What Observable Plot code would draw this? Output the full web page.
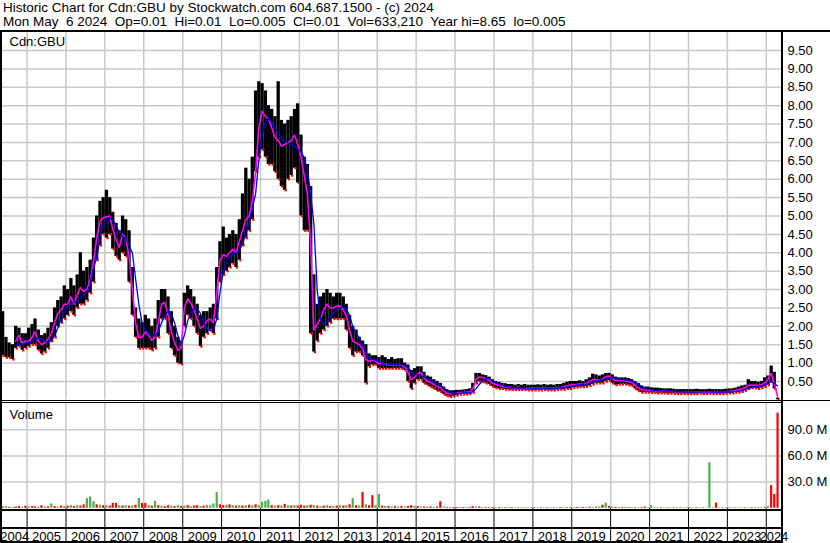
<!DOCTYPE html>
<html><head><meta charset="utf-8">
<script src="https://cdn.jsdelivr.net/npm/d3@7"></script>
<script src="https://cdn.jsdelivr.net/npm/@observablehq/plot@0.6"></script>
<style>
body{margin:0;background:#fff;font-family:"Liberation Sans",Arial,sans-serif;}
#wrap{position:relative;width:830px;height:543px;overflow:hidden;background:#fff;}
#hdr{position:absolute;left:3px;top:1.3px;font-size:13.5px;line-height:14px;white-space:pre;color:#000;}
#price{position:absolute;left:0;top:31px;}
#vol{position:absolute;left:0;top:402px;}
.ln{position:absolute;background:#000;}
svg{display:block;}
</style></head>
<body>
<div id="wrap">
  <div id="hdr"></div>
  <div id="price"></div>
  <div id="vol"></div>
  <div class="ln" style="left:0;top:30px;width:830px;height:2px"></div>
  <div class="ln" style="left:0;top:30px;width:2px;height:513px"></div>
  <div class="ln" style="left:781px;top:30px;width:2px;height:513px"></div>
  <div class="ln" style="left:0;top:399.5px;width:830px;height:1.5px"></div>
  <div class="ln" style="left:0;top:402px;width:782px;height:1px"></div>
  <div class="ln" style="left:0;top:509px;width:782px;height:2px"></div>
  <div class="ln" style="left:0;top:527px;width:782px;height:1.5px"></div>
  <div class="ln" style="left:0;top:541px;width:782px;height:2px"></div>
</div>
<script>
// ---- texts ----
const titleLine1 = "Historic Chart for Cdn:GBU by Stockwatch.com 604.687.1500 - (c) 2024";
const titleLine2 = "Mon May  6 2024  Op=0.01  Hi=0.01  Lo=0.005  Cl=0.01  Vol=633,210  Year hi=8.65  lo=0.005";
const symbolLabel = "Cdn:GBU";
const volumeLabel = "Volume";

// ---- axis ticks / labels ----
const priceTicks = [0.5,1,1.5,2,2.5,3,3.5,4,4.5,5,5.5,6,6.5,7,7.5,8,8.5,9,9.5];
const volTicks = [30e6, 60e6, 90e6];
const yearLabels = [2004,2005,2006,2007,2008,2009,2010,2011,2012,2013,2014,2015,2016,2017,2018,2019,2020,2021,2022,2023,2024];
const domainStart = "2004-05-15", domainEnd = "2024-05-23";
const firstMonth = "2004-05-01", endMonth = "2024-05-01";

// ---- monthly price data (May 2004 .. Apr 2024) ----
const hi = [2.4,1.7,1.55,1.5,2.0,1.95,1.8,1.8,
 1.95,2.05,2.2,1.9,1.75,1.8,1.95,2.1,2.5,2.7,2.8,3.1,
 3.0,3.3,3.1,3.4,4.0,3.5,3.6,3.8,4.4,5.0,5.4,5.5,
 5.7,5.5,5.1,4.8,4.6,5.0,4.9,4.6,3.6,2.5,2.2,2.1,
 2.3,2.2,2.0,2.2,2.7,3.0,3.0,2.8,2.4,2.0,1.7,1.6,
 2.9,3.1,3.0,2.8,2.6,2.3,2.4,2.4,2.5,2.6,3.6,4.3,
 4.7,4.4,4.5,4.6,4.5,4.9,5.6,6.3,6.0,6.6,8.4,8.65,
 8.6,8.4,8.0,7.9,7.7,8.65,7.6,7.5,7.6,7.7,7.9,8.05,
 7.2,6.6,6.4,5.8,3.4,2.6,2.8,2.9,3.0,2.9,2.8,2.9,
 2.9,2.8,2.6,2.3,2.0,1.9,1.7,1.6,1.5,1.25,1.2,1.2,
 1.15,1.2,1.15,1.1,1.15,1.1,1.12,1.12,1.0,0.95,0.8,0.85,
 0.9,0.9,0.75,0.65,0.62,0.55,0.5,0.45,0.35,0.28,0.25,0.25,
 0.26,0.26,0.27,0.28,0.3,0.45,0.72,0.72,0.68,0.66,0.62,0.55,
 0.5,0.48,0.45,0.44,0.42,0.42,0.4,0.42,0.4,0.42,0.4,0.4,
 0.4,0.41,0.4,0.42,0.4,0.41,0.4,0.42,0.42,0.45,0.48,0.5,
 0.5,0.5,0.52,0.5,0.55,0.6,0.7,0.68,0.65,0.68,0.72,0.72,
 0.68,0.62,0.6,0.6,0.6,0.58,0.55,0.5,0.45,0.38,0.35,0.35,
 0.33,0.32,0.32,0.31,0.3,0.3,0.3,0.29,0.28,0.28,0.28,0.28,
 0.28,0.28,0.29,0.28,0.28,0.28,0.29,0.28,0.28,0.28,0.28,0.29,
 0.3,0.3,0.32,0.35,0.38,0.4,0.55,0.5,0.5,0.48,0.5,0.6,
 0.65,0.92,0.75,0.05];
const lo = [1.2,1.15,1.15,1.1,1.4,1.45,1.35,1.4,
 1.45,1.5,1.5,1.35,1.25,1.3,1.4,1.6,1.7,2.0,2.1,2.2,
 2.3,2.4,2.3,2.5,2.6,2.6,2.7,2.9,3.2,3.8,4.2,4.5,
 4.4,4.5,4.1,3.9,3.8,4.0,3.9,3.2,2.3,1.7,1.4,1.4,
 1.4,1.4,1.35,1.4,1.7,2.2,2.2,1.8,1.4,1.2,1.0,0.97,
 2.0,2.3,2.2,2.0,1.8,1.45,1.7,1.8,1.9,1.8,2.2,3.2,
 3.4,3.5,3.6,3.7,3.6,3.8,4.2,4.4,4.6,4.9,6.2,6.6,
 6.8,6.6,6.4,6.4,6.2,6.0,5.8,5.7,6.0,6.1,6.3,5.9,
 5.0,4.6,4.6,1.8,1.3,1.6,1.8,1.9,2.0,2.1,2.2,2.2,
 2.2,2.2,1.9,1.4,1.2,1.3,1.3,1.2,0.45,0.9,0.95,0.95,
 0.85,0.85,0.85,0.85,0.85,0.85,0.85,0.85,0.8,0.5,0.3,0.45,
 0.55,0.55,0.45,0.4,0.35,0.3,0.25,0.22,0.15,0.1,0.08,0.1,
 0.12,0.14,0.15,0.15,0.16,0.2,0.45,0.5,0.48,0.45,0.42,0.36,
 0.32,0.3,0.3,0.28,0.28,0.27,0.27,0.27,0.27,0.27,0.26,0.26,
 0.26,0.26,0.26,0.27,0.26,0.26,0.26,0.27,0.28,0.28,0.3,0.3,
 0.33,0.34,0.35,0.35,0.36,0.38,0.42,0.45,0.45,0.45,0.5,0.52,
 0.45,0.4,0.42,0.42,0.42,0.4,0.38,0.3,0.24,0.2,0.2,0.2,
 0.19,0.19,0.18,0.18,0.18,0.17,0.17,0.17,0.16,0.16,0.16,0.16,
 0.16,0.16,0.16,0.17,0.16,0.16,0.17,0.16,0.16,0.16,0.16,0.17,
 0.18,0.18,0.2,0.2,0.22,0.25,0.3,0.32,0.32,0.3,0.32,0.35,
 0.4,0.5,0.3,0.005];
const maShort = [null,null,null,null,1.6,1.75,1.55,1.6,
 1.6,1.7,1.85,1.6,1.5,1.55,1.65,1.8,2.1,2.35,2.45,2.6,
 2.6,2.8,2.6,2.85,3.05,2.95,3.0,3.25,3.75,4.4,4.85,4.95,
 4.98,5.0,4.65,4.35,4.15,4.5,4.4,3.9,3.0,2.1,1.7,1.7,
 1.85,1.75,1.62,1.7,2.1,2.6,2.65,2.3,1.85,1.55,1.35,1.4,
 2.5,2.75,2.65,2.45,2.2,1.95,2.0,2.15,2.2,2.1,2.9,3.8,
 3.95,3.9,4.0,4.1,4.0,4.3,4.6,4.9,5.0,5.4,6.2,7.4,
 7.85,7.7,7.65,7.4,7.15,7.05,6.9,6.95,7.0,7.05,7.2,6.95,
 6.6,6.1,5.6,4.2,1.9,2.05,2.2,2.45,2.6,2.5,2.5,2.55,
 2.55,2.45,2.3,1.9,1.6,1.55,1.5,1.4,1.1,1.05,1.08,1.05,
 0.98,1.0,0.98,0.95,0.96,0.95,0.96,0.94,0.9,0.75,0.55,0.6,
 0.72,0.75,0.6,0.5,0.48,0.42,0.36,0.33,0.25,0.18,0.16,0.17,
 0.18,0.2,0.2,0.21,0.22,0.3,0.55,0.63,0.6,0.58,0.53,0.46,
 0.42,0.4,0.37,0.35,0.34,0.34,0.33,0.34,0.33,0.33,0.32,0.32,
 0.33,0.33,0.32,0.33,0.33,0.33,0.32,0.33,0.34,0.36,0.38,0.4,
 0.42,0.42,0.43,0.42,0.45,0.5,0.55,0.55,0.54,0.57,0.63,0.65,
 0.58,0.52,0.52,0.53,0.52,0.5,0.47,0.4,0.33,0.28,0.27,0.27,
 0.25,0.25,0.24,0.24,0.24,0.23,0.23,0.23,0.22,0.22,0.22,0.22,
 0.22,0.22,0.22,0.22,0.21,0.21,0.22,0.21,0.21,0.21,0.21,0.22,
 0.23,0.24,0.26,0.28,0.3,0.33,0.4,0.4,0.4,0.39,0.42,0.45,
 0.55,0.72,0.45,0.1];
const maLong = [null,null,null,null,1.5,1.52,1.52,1.55,
 1.57,1.6,1.65,1.68,1.66,1.6,1.57,1.6,1.75,1.95,2.2,2.4,
 2.55,2.6,2.65,2.7,2.78,2.85,2.9,3.15,3.6,3.85,4.4,4.75,
 4.85,4.95,4.9,4.75,4.55,4.45,4.4,4.2,4.0,3.3,2.6,2.1,
 1.9,1.8,1.75,1.75,1.85,2.1,2.3,2.42,2.35,2.1,1.75,1.5,
 1.75,2.15,2.35,2.48,2.48,2.35,2.1,1.95,1.88,1.9,2.2,2.9,
 3.5,3.75,3.9,3.95,4.0,4.05,4.25,4.5,4.8,5.2,5.6,6.5,
 7.2,7.55,7.65,7.55,7.42,7.25,7.1,7.03,6.98,6.93,6.9,6.82,
 6.75,6.58,6.25,5.6,4.8,3.0,2.2,2.05,2.1,2.25,2.35,2.45,
 2.5,2.52,2.48,2.3,2.0,1.8,1.7,1.5,1.3,1.15,1.1,1.08,
 1.05,1.0,0.98,0.97,0.96,0.96,0.96,0.95,0.93,0.88,0.78,0.7,
 0.68,0.66,0.62,0.58,0.55,0.5,0.45,0.4,0.33,0.26,0.2,0.18,
 0.17,0.18,0.19,0.2,0.2,0.22,0.3,0.42,0.52,0.58,0.58,0.53,
 0.48,0.44,0.4,0.37,0.35,0.34,0.34,0.33,0.33,0.33,0.33,0.32,
 0.32,0.32,0.32,0.32,0.32,0.32,0.32,0.32,0.33,0.34,0.35,0.37,
 0.38,0.4,0.41,0.42,0.42,0.44,0.48,0.52,0.54,0.55,0.57,0.6,
 0.6,0.58,0.56,0.55,0.54,0.53,0.52,0.48,0.43,0.37,0.32,0.29,
 0.27,0.26,0.25,0.25,0.24,0.24,0.24,0.23,0.23,0.23,0.22,0.22,
 0.22,0.22,0.22,0.22,0.22,0.22,0.22,0.21,0.21,0.21,0.21,0.22,
 0.22,0.22,0.23,0.24,0.26,0.28,0.31,0.34,0.36,0.37,0.38,0.4,
 0.44,0.5,0.45,0.38];

// ---- monthly volume (millions) and bar colour (g up, r down, x unchanged) ----
const volMillions = [1.5,2,1,1,1.5,2,1.2,2.5,
 1.5,2,1.5,1.2,3,1.5,1.8,5,2,1.5,2.5,2,
 2.5,3,2,3,2.5,4,11,13,7.5,4,3.5,3,
 3,2.5,5.6,5.6,3,2.5,3,2.5,3,3.5,11.4,5.6,
 5.6,3,2.5,8,3,2.5,2,3,2.5,2,3,2,
 2.5,3,2,2.5,3,2,2.5,3,3,5,18,4,
 3,3.5,4,3,2.5,3,2.5,3,3.5,3,4,3,
 7,8,9.5,3,2.5,3,2.5,4.5,3,2.5,3,2.5,
 3.5,2.5,3,3.5,3,2.5,2,2.5,3,2,2,2.5,
 3,2.5,3,4,11,3,2.5,18,4,3,14.5,3,
 16,2.5,2,2,1.5,2,1.5,2,1.5,2,3,2,
 2,1.5,1.5,1.5,1.5,1,1.5,7.5,1.5,1,1,1,
 1,1,0.8,1,1,2,1.5,1.5,1,1,1,1,
 0.8,1,0.7,0.8,0.7,0.8,0.6,0.7,0.8,0.6,0.7,0.6,
 0.7,0.6,0.8,0.6,0.7,0.6,0.7,0.6,0.8,0.7,0.8,1,
 0.8,1,0.8,0.9,1,1.2,1,1,1.5,3.5,6,2,
 1.5,1,1,0.8,1,0.8,0.8,0.8,0.8,0.8,1.5,0.8,
 3,0.6,0.6,0.7,0.6,0.6,0.6,0.7,0.6,0.6,0.6,0.6,
 0.6,0.6,0.7,0.6,0.6,0.6,52,0.6,6,0.6,0.6,0.6,
 0.6,1,1,1,0.6,0.6,0.6,0.7,0.6,0.6,0.7,0.8,
 2,26,15.7,109];
const volDirection = ("rgrgrrgr" +
 "grrgrgrgrgrg" + "rgrgrrgggrgr" + "grrrgrgrgrgr" + "rgrgrgrrgrgr" +
 "grgrrgrggggr" + "rgrgrgrgrgrg" + "gggrgrgrgrgr" + "rrgrgrgrgrgr" +
 "grgrgrgrgrrg" + "grgrgrgrgrrg" + "rgrgrgrrgrgr" + "rgrgrrgrgrgr" +
 "grgrgrgrgrgr" + "rgrgrgrgrgrg" + "grgrgrgrgrgr" + "grgrgrgrgrrg" +
 "grgrgrgrgrgr" + "rgrgrggrrgrg" + "rxxxgrgrgrgr" + "grrr").split("");

// ---- build ----
document.getElementById("hdr").textContent = titleLine1 + "\n" + titleLine2;
const x0 = new Date(domainStart), x1 = new Date(domainEnd);
const months = d3.utcMonth.range(new Date(firstMonth), new Date(endMonth));
const price = months.map((m, i) => ({date: d3.utcDay.offset(m, 15), hi: hi[i], lo: lo[i], ma: maShort[i], ml: maLong[i]}));
const vols = months.map((m, i) => ({date: d3.utcDay.offset(m, 15), v: volMillions[i] * 1e6, c: volDirection[i]}));
const colorOf = {g: "#44b244", r: "#ff0000", x: "#a8a8a8"};
const yearBounds = yearLabels.slice(1).map(y => new Date(Date.UTC(y, 0, 1)));
const yearMid = yearLabels.map(y => {
  const a = Math.max(Date.UTC(y, 0, 1), +x0), b = Math.min(Date.UTC(y + 1, 0, 1), +x1);
  return new Date((a + b) / 2);
});
const font = "Liberation Sans, Arial, sans-serif";
const st = {fontFamily: font, fontSize: "13px", color: "#000", background: "transparent", overflow: "visible"};
const grid = "#c8c8c8";

const pricePlot = Plot.plot({
  width: 830, height: 371, marginLeft: 2, marginRight: 49, marginTop: 0.6, marginBottom: 2.6,
  style: st,
  x: {type: "utc", domain: [x0, x1], axis: null, label: null},
  y: {domain: [0, 10], label: null},
  marks: [
    Plot.ruleY(priceTicks, {stroke: grid, strokeWidth: 1.5}),
    Plot.ruleX(yearBounds, {stroke: grid, strokeWidth: 1.5}),
    Plot.axisY(priceTicks, {anchor: "right", tickSize: 0, tickPadding: 6, label: null, fontSize: 13,
      tickFormat: d => d.toFixed(2)}),
    Plot.ruleX(price, {x: "date", y1: "lo", y2: "hi", stroke: "#000", strokeWidth: 3.3}),
    Plot.dot(price, {x: "date", y: "lo", symbol: "square", r: 1.3, fill: "#ff0000", dx: 1}),
    Plot.line(price.filter(d => d.ma != null), {x: "date", y: "ma", stroke: "#ff00ff", strokeWidth: 1.6}),
    Plot.line(price.filter(d => d.ml != null), {x: "date", y: "ml", stroke: "#0000ff", strokeWidth: 1.3}),
    Plot.text([symbolLabel], {frameAnchor: "top-left", dx: 7, dy: 5, lineAnchor: "top", textAnchor: "start", fontSize: 13, fill: "#000"})
  ]
});
document.getElementById("price").append(pricePlot);

const volPlot = Plot.plot({
  width: 830, height: 141, marginLeft: 2, marginRight: 49, marginTop: 1, marginBottom: 35.2,
  style: st,
  x: {type: "utc", domain: [x0, x1], label: null},
  y: {domain: [0, 120e6], label: null},
  marks: [
    Plot.ruleY(volTicks, {stroke: grid, strokeWidth: 1.5}),
    Plot.ruleX(yearBounds, {stroke: grid, strokeWidth: 1.5}),
    Plot.ruleX(vols, {x: "date", y1: 0, y2: "v", stroke: d => colorOf[d.c], strokeWidth: 2.2}),
    Plot.axisY(volTicks, {anchor: "right", tickSize: 0, tickPadding: 6, label: null, fontSize: 13,
      tickFormat: d => (d / 1e6).toFixed(1) + " M"}),
    Plot.axisX(yearBounds, {anchor: "bottom", tickSize: 34, label: null, stroke: "#000", strokeWidth: 1, tickFormat: () => ""}),
    Plot.axisX(yearMid, {anchor: "bottom", tickSize: 0, tickPadding: 23, label: null, fontSize: 13,
      tickFormat: d => String(d.getUTCFullYear())}),
    Plot.text([volumeLabel], {frameAnchor: "top-left", dx: 7, dy: 6, lineAnchor: "top", textAnchor: "start", fontSize: 13, fill: "#000"})
  ]
});
document.getElementById("vol").append(volPlot);
</script>
</body></html>
